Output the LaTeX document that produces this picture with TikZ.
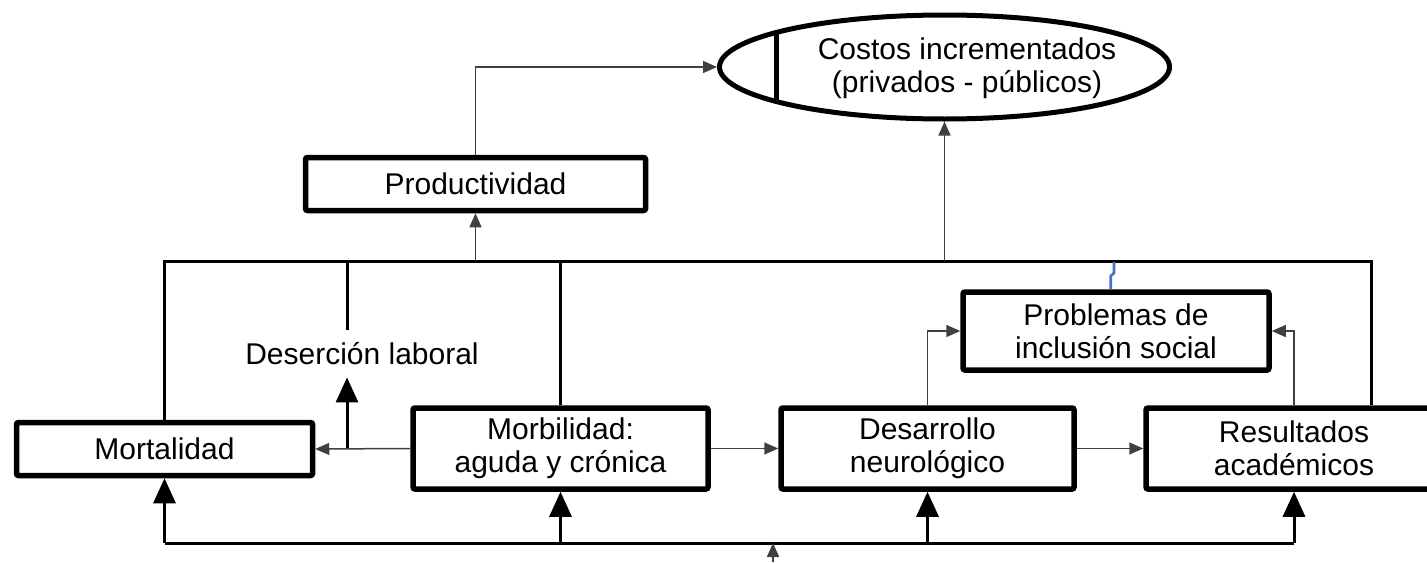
\documentclass[tikz,border=0pt]{standalone}
\usepackage{fontspec}
\setmainfont{Liberation Sans}
\usetikzlibrary{arrows.meta, shapes.geometric}
\definecolor{azul}{RGB}{68,114,196}

\begin{document}
\begin{tikzpicture}[x=0.5pt, y=-0.5pt,
     every node/.style = {align=center, inner sep=0pt,
         font=\fontsize{15}{16.5}\selectfont},
     caja/.style = {shape=rectangle, draw, line width=2.75pt, rounded corners=1pt},
     bus/.style = {line width=1.5pt},
     flecha/.style = {line width=0.75pt, draw=black!75, -{Triangle[width=6pt,length=7pt]}},
     flechagrande/.style = {line width=1.5pt, -{Triangle[width=11pt,length=12.5pt]}}]
        \useasboundingbox (0,0) rectangle (1427,562);
        \clip (0,0) rectangle (1427,562);
        % cajas
        \node [shape=ellipse, draw, line width=2.5pt, minimum width=225pt, minimum height=52pt] (costos) at (944.5,67) {};
        \node (costostxt) at (967,68) {Costos incrementados\\(privados - p\'ublicos)};
        \node [caja, minimum width=170pt, minimum height=26.5pt] (prod) at (475.5,184) {Productividad};
        \node [caja, minimum width=148pt, minimum height=26.5pt] (mort) at (164.5,449) {Mortalidad};
        \node [caja, minimum width=147.5pt, minimum height=40.5pt] (morb) at (560.5,448.5) {Morbilidad:\\aguda y cr\'onica};
        \node [caja, minimum width=146.5pt, minimum height=40.5pt] (desa) at (927.5,448.5) {Desarrollo\\neurol\'ogico};
        \node [caja, minimum width=148pt, minimum height=40.5pt] (resu) at (1294,448.5) {Resultados\\acad\'emicos};
        \node [caja, minimum width=153pt, minimum height=39pt] (prob) at (1116,331) {Problemas de\\inclusi\'on social};
        \node [minimum height=23.5pt] (desercion) at (362,353.5) {Deserci\'on laboral};
        \draw [line width=2.5pt] (776,32.5) -- (776,101.5);
        % buses
        \coordinate (busR) at (1371,261);
        \coordinate (busB) at (773,543);
        \coordinate (desv) at (347,449);
        \coordinate (entrada) at (773,562);
        \draw [bus] (mort.north) -- (mort.north |- busR) -- (busR) -- (busR |- resu.north);
        \draw [bus] (morb.north) -- (morb.north |- busR);
        \draw [bus] (desv |- busR) -- (desv |- desercion.north);
        \draw [bus] (mort.south |- busB) -- (resu.south |- busB);
        \foreach \n in {mort, morb, desa, resu}
            \draw [flechagrande] (\n.south |- busB) -- (\n.south);
        \draw [flechagrande] (desv) -- (desv |- desercion.south);
        % conectores finos
        \draw [flecha] (prod.north) |- (costos.west);
        \draw [flecha] (prod.south |- busR) -- (prod.south);
        \draw [flecha] (costos.south |- busR) -- (costos.south);
        \draw [flecha] (morb.west) -- (mort.east);
        \draw [flecha] (morb.east) -- (desa.west);
        \draw [flecha] (desa.east) -- (resu.west);
        \draw [flecha] (desa.north) |- (prob.west);
        \draw [flecha] (resu.north) |- (prob.east);
        \draw [flecha] (entrada) -- (busB);
        \draw [azul, line width=1.3pt] (prob.north -| 1110.7,0) -- (1110.7,276) -- (1114,273) -- (1114,262);
\end{tikzpicture}
\end{document}
